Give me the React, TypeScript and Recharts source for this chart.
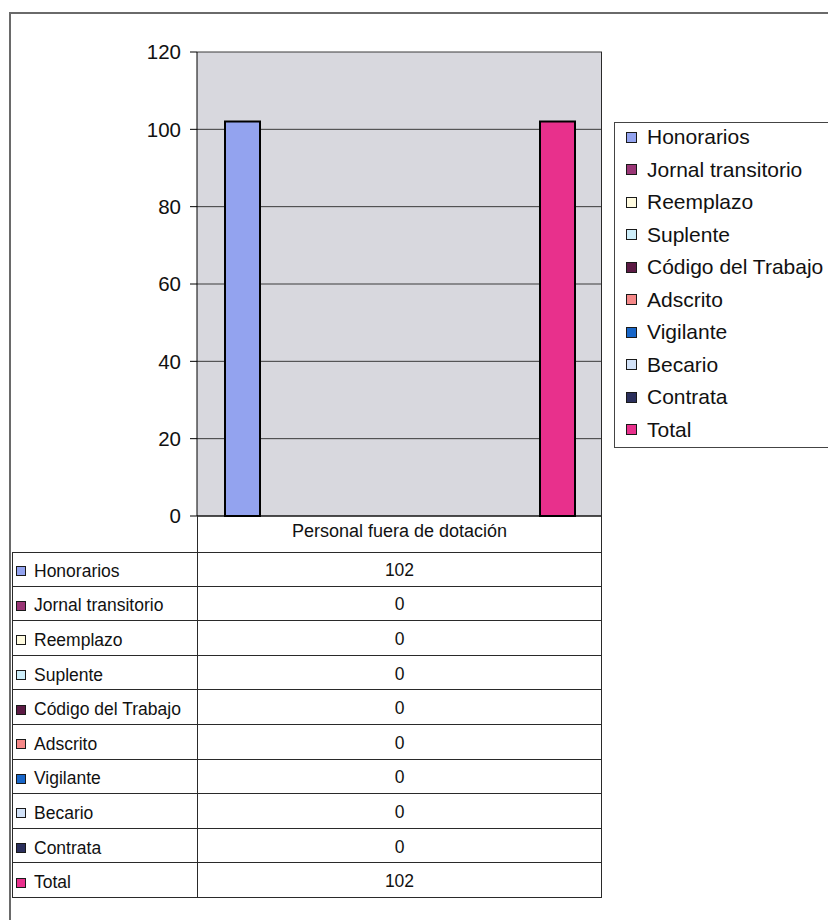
import React from 'react';
import { BarChart, Bar, XAxis, YAxis, CartesianGrid } from 'recharts';

const FONT = '"Liberation Sans", Arial, sans-serif';

const categories = ['Personal fuera de dotación'];
const seriesNames = [
    'Honorarios',
    'Jornal transitorio',
    'Reemplazo',
    'Suplente',
    'Código del Trabajo',
    'Adscrito',
    'Vigilante',
    'Becario',
    'Contrata',
    'Total',
];
const seriesValues = [102, 0, 0, 0, 0, 0, 0, 0, 0, 102];
const seriesColors = [
    '#93a3ef', '#9a3676', '#fffbe0', '#cdeefa', '#5c1a44',
    '#f58888', '#1866c8', '#d2e2f8', '#2b2f5c', '#e8308c',
];
const yTicks = [0, 20, 40, 60, 80, 100, 120];

// one row per category, one key per series
const chartData = categories.map((name) => {
    const row: any = { name };
    seriesNames.forEach((_, i) => {
        row[`s${i}`] = seriesValues[i];
    });
    return row;
});

// plot box in page pixels
const PLOT_LEFT = 197;
const PLOT_RIGHT = 602;
const PLOT_TOP = 52;
const PLOT_BOTTOM = 516;
const Y_AXIS_W = 60;
const X_AXIS_H = 36;
const W = 828;
const H = 920;

const TABLE_LEFT = 12;
const HEADER_BOTTOM = 552;
const ROW_H = 34.6;
const LINE = '#2a2a2a';

const Swatch: React.FC<{ color: string; size: number }> = ({ color, size }) => (
    <span
        style={{
            display: 'inline-block',
            width: size,
            height: size,
            background: color,
            border: '1px solid #1a1a1a',
            boxSizing: 'border-box',
        }}
    />
);

export default function App() {
    const tableBottom = HEADER_BOTTOM + ROW_H * seriesNames.length;

    return (
        <div
            style={{
                position: 'absolute',
                left: 0,
                top: 0,
                width: W,
                height: H,
                overflow: 'hidden',
                background: '#fff',
                fontFamily: FONT,
                color: '#111',
            }}
        >
            {/* outer chart frame, runs off the right and bottom edges */}
            <div
                style={{
                    position: 'absolute',
                    left: 9,
                    top: 12,
                    width: 1000,
                    height: 1000,
                    borderLeft: '2px solid #6a6a6a',
                    borderTop: '2px solid #6a6a6a',
                }}
            />

            <div style={{ position: 'absolute', left: 0, top: 0 }}>
                <BarChart
                    width={W}
                    height={H}
                    data={chartData}
                    barGap={0}
                    barSize={35}
                    margin={{
                        top: PLOT_TOP,
                        right: W - PLOT_RIGHT,
                        left: PLOT_LEFT - Y_AXIS_W,
                        bottom: H - PLOT_BOTTOM - X_AXIS_H,
                    }}
                >
                    <CartesianGrid
                        vertical={false}
                        stroke="#3a3a3a"
                        fill="#d8d8de"
                        fillOpacity={1}
                    />
                    <XAxis
                        dataKey="name"
                        height={X_AXIS_H}
                        axisLine={{ stroke: '#000' }}
                        tickLine={false}
                        tickMargin={2}
                        tick={{ fill: '#111', fontSize: 18, fontFamily: FONT }}
                    />
                    <YAxis
                        width={Y_AXIS_W}
                        domain={[0, 120]}
                        ticks={yTicks}
                        interval={0}
                        tickSize={7}
                        tickMargin={9}
                        axisLine={{ stroke: '#000' }}
                        tickLine={{ stroke: '#000' }}
                        tick={{ fill: '#111', fontSize: 20.5, fontFamily: FONT }}
                    />
                    {seriesNames.map((s, i) => (
                        <Bar
                            key={s}
                            dataKey={`s${i}`}
                            name={s}
                            fill={seriesColors[i]}
                            stroke="#000"
                            strokeWidth={2}
                            isAnimationActive={false}
                        />
                    ))}
                </BarChart>
            </div>

            {/* right edge of plot and data table */}
            <div
                style={{
                    position: 'absolute',
                    left: PLOT_RIGHT - 1,
                    top: PLOT_TOP,
                    height: tableBottom - PLOT_TOP,
                    borderLeft: `1px solid ${LINE}`,
                }}
            />
            {/* y axis line carried down through the table */}
            <div
                style={{
                    position: 'absolute',
                    left: PLOT_LEFT,
                    top: PLOT_BOTTOM,
                    height: tableBottom - PLOT_BOTTOM,
                    borderLeft: `1px solid ${LINE}`,
                }}
            />
            {/* table left border */}
            <div
                style={{
                    position: 'absolute',
                    left: TABLE_LEFT,
                    top: HEADER_BOTTOM,
                    height: tableBottom - HEADER_BOTTOM,
                    borderLeft: `1px solid ${LINE}`,
                }}
            />
            {/* header bottom line */}
            <div
                style={{
                    position: 'absolute',
                    left: TABLE_LEFT,
                    top: HEADER_BOTTOM,
                    width: PLOT_RIGHT - TABLE_LEFT,
                    borderTop: `1px solid ${LINE}`,
                }}
            />

            {seriesNames.map((s, i) => {
                const top = HEADER_BOTTOM + ROW_H * i;
                return (
                    <div
                        key={s}
                        style={{
                            position: 'absolute',
                            left: TABLE_LEFT,
                            top,
                            width: PLOT_RIGHT - TABLE_LEFT,
                            height: ROW_H,
                            borderBottom: `1px solid ${LINE}`,
                            boxSizing: 'border-box',
                            fontSize: 17.5,
                        }}
                    >
                        <div
                            style={{
                                position: 'absolute',
                                left: 4,
                                top: 2,
                                height: ROW_H,
                                display: 'flex',
                                alignItems: 'center',
                                whiteSpace: 'nowrap',
                            }}
                        >
                            <Swatch color={seriesColors[i]} size={10} />
                            <span style={{ marginLeft: 8 }}>{s}</span>
                        </div>
                        <div
                            style={{
                                position: 'absolute',
                                left: PLOT_LEFT - TABLE_LEFT,
                                width: PLOT_RIGHT - PLOT_LEFT,
                                top: 1,
                                height: ROW_H,
                                display: 'flex',
                                alignItems: 'center',
                                justifyContent: 'center',
                            }}
                        >
                            {seriesValues[i]}
                        </div>
                    </div>
                );
            })}

            {/* legend box, clipped at the right edge */}
            <div
                style={{
                    position: 'absolute',
                    left: 614,
                    top: 122,
                    width: 260,
                    height: 326,
                    border: '1px solid #444',
                    boxSizing: 'border-box',
                }}
            >
                {seriesNames.map((s, i) => (
                    <div
                        key={s}
                        style={{
                            position: 'absolute',
                            left: 11,
                            top: 15 + i * 32.5 - 17,
                            height: 32,
                            display: 'flex',
                            alignItems: 'center',
                            whiteSpace: 'nowrap',
                            fontSize: 21,
                        }}
                    >
                        <Swatch color={seriesColors[i]} size={11} />
                        <span style={{ marginLeft: 10 }}>{s}</span>
                    </div>
                ))}
            </div>
        </div>
    );
}
